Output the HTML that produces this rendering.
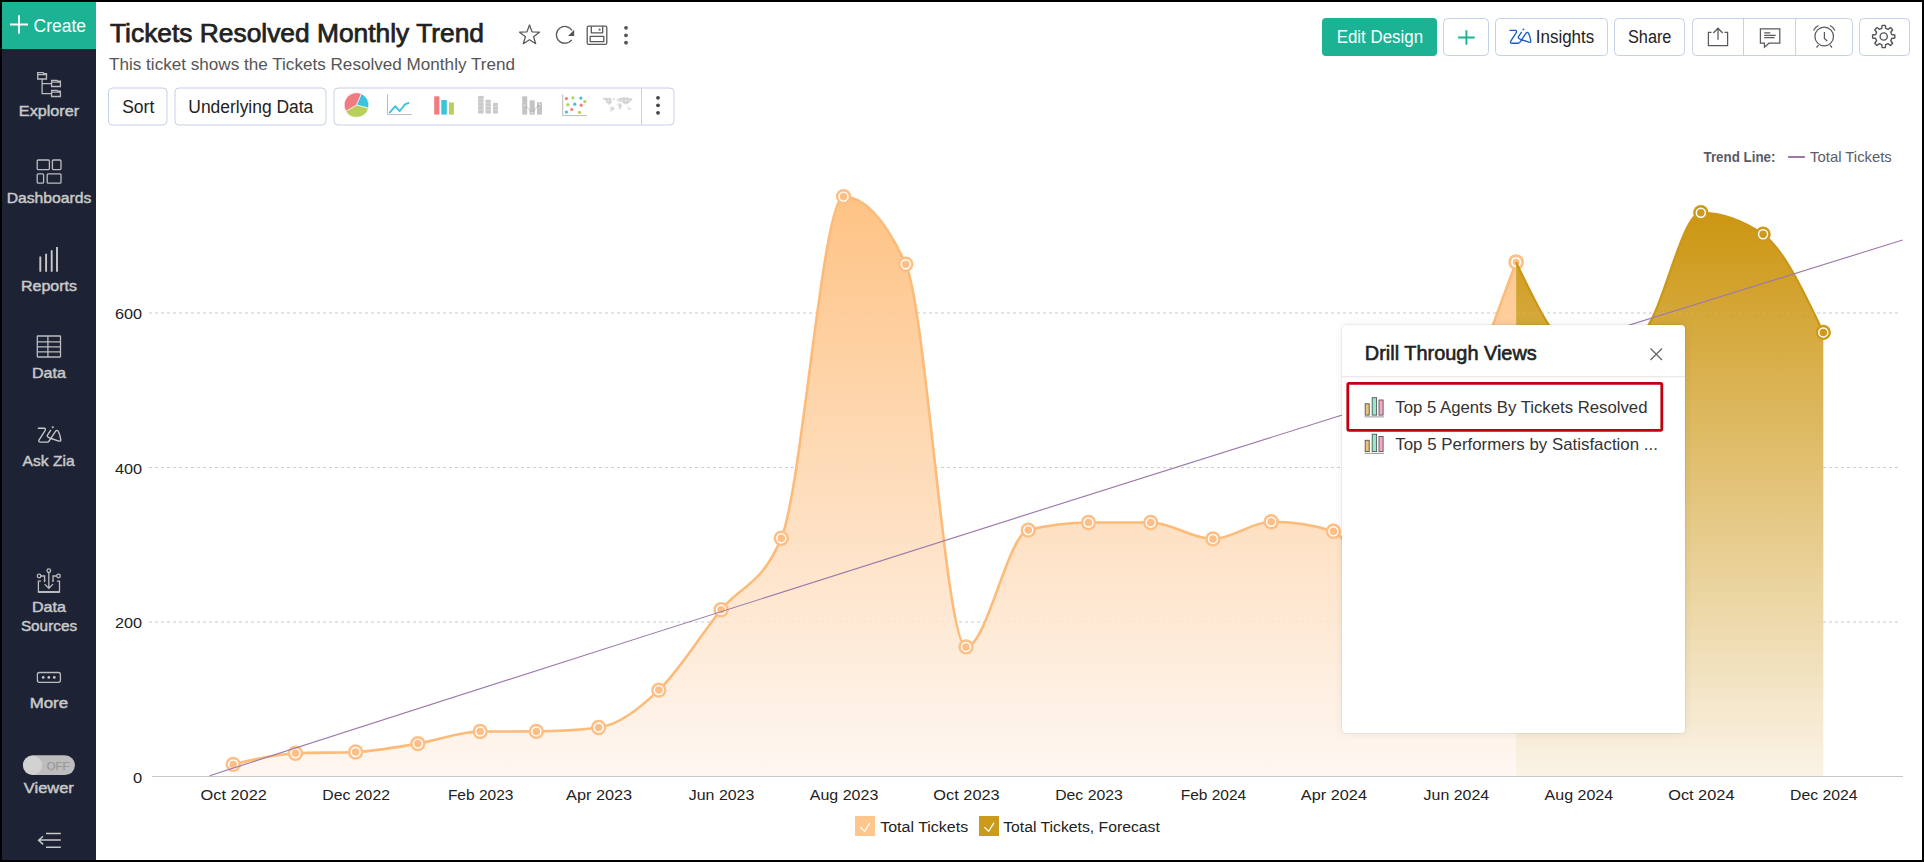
<!DOCTYPE html>
<html><head><meta charset="utf-8"><title>Tickets Resolved Monthly Trend</title>
<style>
html,body{margin:0;padding:0;width:1924px;height:862px;overflow:hidden;background:#000}
svg{position:absolute;left:0;top:0;display:block}
text{font-family:'Liberation Sans', sans-serif}
.pop{position:absolute;left:1342px;top:325px;width:343px;height:408px;background:#fff;border-radius:4px;box-shadow:0 0 0 1px rgba(0,0,0,0.045), 0 0 10px rgba(0,0,0,0.075)}
</style></head><body>

<svg width="1924" height="862" viewBox="0 0 1924 862">
<defs>
<linearGradient id="gOr" gradientUnits="userSpaceOnUse" x1="0" y1="196" x2="0" y2="776.5">
<stop offset="0" stop-color="#fec385"/><stop offset="1" stop-color="#fef7f2"/></linearGradient>
<linearGradient id="gGd" gradientUnits="userSpaceOnUse" x1="0" y1="212" x2="0" y2="776.5">
<stop offset="0" stop-color="#cc9611"/><stop offset="1" stop-color="#faf3e6"/></linearGradient>
</defs>
<rect x="0" y="0" width="1924" height="862" fill="#000"/>
<rect x="2" y="2" width="1920" height="858" fill="#fff"/>
<g id="sidebar">
<rect x="2" y="2" width="94" height="858" fill="#1d2235"/>
<rect x="2" y="2" width="94" height="47" fill="#1cb294"/>
<path d="M10,24.5 H28 M19,15.3 V33.8" stroke="#fff" stroke-width="1.8" fill="none"/>
<text x="33.5" y="31.7" font-size="18" fill="#fff" textLength="52.5" lengthAdjust="spacingAndGlyphs">Create</text>
<text x="18.85" y="115.5" font-size="14.5" fill="#c9c9c9" textLength="60.3" lengthAdjust="spacingAndGlyphs" stroke="#c9c9c9" stroke-width="0.45">Explorer</text>
<text x="6.649999999999999" y="202.5" font-size="14.5" fill="#c9c9c9" textLength="84.7" lengthAdjust="spacingAndGlyphs" stroke="#c9c9c9" stroke-width="0.45">Dashboards</text>
<text x="21.0" y="290.5" font-size="14.5" fill="#c9c9c9" textLength="56" lengthAdjust="spacingAndGlyphs" stroke="#c9c9c9" stroke-width="0.45">Reports</text>
<text x="32.0" y="377.9" font-size="14.5" fill="#c9c9c9" textLength="34" lengthAdjust="spacingAndGlyphs" stroke="#c9c9c9" stroke-width="0.45">Data</text>
<text x="22.6" y="465.6" font-size="14.5" fill="#c9c9c9" textLength="52" lengthAdjust="spacingAndGlyphs" stroke="#c9c9c9" stroke-width="0.45">Ask Zia</text>
<text x="32.0" y="611.6" font-size="14.5" fill="#c9c9c9" textLength="34" lengthAdjust="spacingAndGlyphs" stroke="#c9c9c9" stroke-width="0.45">Data</text>
<text x="20.9" y="630.5" font-size="14.5" fill="#c9c9c9" textLength="56.2" lengthAdjust="spacingAndGlyphs" stroke="#c9c9c9" stroke-width="0.45">Sources</text>
<text x="29.7" y="708.4" font-size="14.5" fill="#c9c9c9" textLength="38.4" lengthAdjust="spacingAndGlyphs" stroke="#c9c9c9" stroke-width="0.45">More</text>
<text x="23.799999999999997" y="792.6" font-size="14.5" fill="#c9c9c9" textLength="50" lengthAdjust="spacingAndGlyphs" stroke="#c9c9c9" stroke-width="0.45">Viewer</text>
<g stroke="#bdbdbd" fill="none" stroke-width="1.3"><path d="M37.7,79 V72.7 H43.2 L44,73.6 H46.5 V79 Z M37.7,74.7 H46.5"/><path d="M51.6,86.5 V80.3 H57 L57.8,81.1 H60.4 V86.5 Z M51.6,82.1 H60.4"/><path d="M51.6,96.5 V90.3 H57 L57.8,91.1 H60.4 V96.5 Z M51.6,92.1 H60.4"/><path d="M42.1,79 V93.6 H51.6 M42.1,83.7 H51.6"/></g>
<g stroke="#bdbdbd" fill="none" stroke-width="1.3" stroke-width="1.5"><rect x="37.2" y="160" width="12.2" height="9.6" rx="1"/><rect x="52.4" y="160" width="8.6" height="9.6" rx="1"/><rect x="37.2" y="173.8" width="6.4" height="9.4" rx="1"/><rect x="47.2" y="173.8" width="13.8" height="9.4" rx="1"/></g>
<g stroke="#c9c9c9" stroke-width="1.9"><path d="M40.3,271.7 V256.4 M46.1,271.7 V253.8 M51.7,271.7 V250.3 M57,271.7 V247"/></g>
<g stroke="#bdbdbd" fill="none" stroke-width="1.3"><rect x="37.3" y="336" width="23.2" height="21" rx="0.5"/><path d="M37.3,341.9 H60.5 M37.3,346.9 H60.5 M37.3,351.9 H60.5 M47.9,336 V357"/></g>
<g transform="translate(38.3,427.2) scale(1.08)"><path d="M0,1 H5.6 Q7,1.1 6.4,2.9 L0.6,11.9 Q0,13.8 2,13.8 H8.4 Q9.5,13.8 10.2,12.4 L16.2,3.5 Q17.5,2.2 18.6,4 Q20,6.6 20.8,11.6 Q21,13.3 19,12.8 L10.6,10 Q7.6,8.9 8.5,7.3 L11.4,2.9" stroke="#c9c9c9" stroke-width="1.25" fill="none" stroke-linejoin="round" stroke-linecap="round"/><circle cx="13.4" cy="0" r="0.95" fill="#c9c9c9"/></g>
<g stroke="#bdbdbd" fill="none" stroke-width="1.3"><path d="M40.9,581.2 H38.4 V592 H59.5 V581.2 H56.9 M48.8,572.7 V588.2 M44.6,584.1 L48.8,588.3 L53,584.1 M40.9,576 H44.6 V580.4 M56.7,576 H53 V580.4"/><circle cx="48.8" cy="570.7" r="1.8"/><circle cx="39.1" cy="576" r="1.8"/><circle cx="58.5" cy="576" r="1.8"/></g><path d="M38.4,592 H59.5" stroke="#bdbdbd" stroke-width="1.9"/><path d="M43.3,580.3 H45.9 L44.6,582.4 Z M51.7,580.3 H54.3 L53,582.4 Z" fill="#c4c4c4"/>
<g stroke="#bdbdbd" fill="none" stroke-width="1.3"><rect x="37.4" y="672.5" width="23" height="9.8" rx="2"/></g><g fill="#c9c9c9"><circle cx="43.2" cy="677.4" r="1.35"/><circle cx="48.8" cy="677.4" r="1.35"/><circle cx="54.3" cy="677.4" r="1.35"/></g>
<rect x="22.9" y="755.3" width="52" height="19.8" rx="9.9" fill="#bdbdbd"/>
<circle cx="32.6" cy="765.2" r="9.5" fill="#d2d2d2"/>
<text x="46.7" y="769.7" font-size="10.5" fill="#999" textLength="22.6" lengthAdjust="spacingAndGlyphs" stroke="#999" stroke-width="0.25">OFF</text>
<g stroke="#c9c9c9" stroke-width="1.5" fill="none"><path d="M46,833.6 H60.8 M38.9,840.1 H60.8 M46,847.2 H60.8 M43.1,836.2 L38.6,840.2 L43.1,844.4"/></g>
</g>
<text x="110" y="41.7" font-size="26" fill="#222" textLength="374" lengthAdjust="spacingAndGlyphs" stroke="#222" stroke-width="0.75">Tickets Resolved Monthly Trend</text>
<text x="109" y="69.8" font-size="17" fill="#555" textLength="406" lengthAdjust="spacingAndGlyphs">This ticket shows the Tickets Resolved Monthly Trend</text>
<g stroke="#5a5a5a" stroke-width="1.3" fill="none" stroke-linejoin="round">
<path d="M529.5,25 L532,31.8 L539.4,32.2 L533.6,36.7 L535.7,43.7 L529.5,39.7 L523.3,43.7 L525.4,36.7 L519.6,32.2 L527,31.8 Z"/>
<path d="M571.6,39.8 A8.4,8.4 0 1 1 572,30.5"/>
<rect x="587.2" y="26.2" width="19.6" height="18.2" rx="1.5"/><path d="M591.3,26.2 V32.8 H602.7 V26.2 M590.2,36.4 H603.8 V41.6 H590.2 Z"/>
</g>
<path d="M574.2,29.8 V36 H568 Z" fill="#555"/><rect x="598.7" y="28.7" width="1.8" height="1.8" fill="#555"/>
<g fill="#555"><circle cx="626" cy="27.8" r="1.9"/><circle cx="626" cy="35.3" r="1.9"/><circle cx="626" cy="42.7" r="1.9"/></g>
<rect x="108.5" y="88.0" width="58.5" height="37.0" rx="4" fill="#fff" stroke="#c5cfe6" stroke-width="1"/>
<text x="122.2" y="113.1" font-size="18" fill="#222" textLength="32.1" lengthAdjust="spacingAndGlyphs">Sort</text>
<rect x="175.0" y="88.0" width="151.0" height="37.0" rx="4" fill="#fff" stroke="#c5cfe6" stroke-width="1"/>
<text x="188.3" y="113.1" font-size="18" fill="#222" textLength="125" lengthAdjust="spacingAndGlyphs">Underlying Data</text>
<rect x="334.0" y="88.0" width="340.0" height="37.0" rx="4" fill="#fff" stroke="#c5cfe6" stroke-width="1"/>
<path d="M641.5,88 V125" stroke="#c5cfe6" stroke-width="1"/>
<path d="M356.5,105 L361.31,93.68 A12.3,12.3 0 0 1 368.38,108.18 Z" fill="#3bc3db" stroke="#fff" stroke-width="0.6"/>
<path d="M356.5,105 L368.38,108.18 A12.3,12.3 0 0 1 345.85,111.15 Z" fill="#b8cf5a" stroke="#fff" stroke-width="0.6"/>
<path d="M356.5,105 L345.85,111.15 A12.3,12.3 0 0 1 361.31,93.68 Z" fill="#ee7c80" stroke="#fff" stroke-width="0.6"/>
<path d="M387.5,94.4 V114.6 H411.8" stroke="#bbb" stroke-width="1" fill="none"/>
<path d="M389.3,113.1 L395.2,106.2 L399.6,111.2 L405,104.4 L409.2,102.6" stroke="#3bc3db" stroke-width="1.8" fill="none" stroke-linejoin="round"/>
<rect x="434.2" y="96.3" width="5.2" height="18.3" fill="#ee7c80"/><rect x="441.3" y="100" width="5.5" height="14.6" fill="#3bc3db"/><rect x="449" y="102.5" width="4.9" height="12.1" fill="#b8cf5a"/>
<g fill="#c9c9c9"><rect x="478.1" y="95.9" width="5.5" height="17.7"/><rect x="485.5" y="99.8" width="5.3" height="13.8"/><rect x="493" y="103" width="4.9" height="10.6"/></g>
<g stroke="#e4e4e4" stroke-width="0.6"><path d="M478,99 H483.6 M478,102.5 H483.6 M478,106 H483.6 M478,109.5 H483.6 M485.5,103 H490.8 M485.5,106.5 H490.8 M485.5,110 H490.8 M493,106.5 H497.9 M493,110 H497.9"/></g>
<g fill="#c4c4c4"><rect x="522.2" y="96.3" width="5" height="18.3"/><rect x="529.6" y="100.3" width="5.2" height="14.3"/><rect x="537" y="102.3" width="5" height="12.3"/></g>
<path d="M524.7,105.2 L532.1,112.6 L539.5,104.2" stroke="#8f8f8f" stroke-width="0.8" fill="none" opacity="0.6"/><g fill="#f4f4f4"><circle cx="524.7" cy="105.2" r="0.8"/><circle cx="532.1" cy="112.6" r="0.8"/><circle cx="539.5" cy="104.2" r="0.8"/></g>
<path d="M562.7,94.4 V115.6 H586.9" stroke="#bbb" stroke-width="1" fill="none"/>
<circle cx="566.4" cy="98.6" r="1.6" fill="#ee7c80"/>
<circle cx="572.9" cy="97.8" r="1.6" fill="#b8cf5a"/>
<circle cx="580.8" cy="98.1" r="1.6" fill="#3bc3db"/>
<circle cx="584.9" cy="101.6" r="1.6" fill="#b8cf5a"/>
<circle cx="567.9" cy="104.7" r="1.6" fill="#b8cf5a"/>
<circle cx="574.8" cy="104.2" r="1.6" fill="#3bc3db"/>
<circle cx="581.2" cy="105.2" r="1.6" fill="#ee7c80"/>
<circle cx="571.8" cy="109.5" r="1.6" fill="#ee7c80"/>
<circle cx="566.4" cy="112.1" r="1.6" fill="#3bc3db"/>
<circle cx="579.5" cy="112.4" r="1.6" fill="#b8cf5a"/>
<defs><pattern id="dotp" width="1.4" height="1.4" patternUnits="userSpaceOnUse"><rect width="1.15" height="1.15" fill="#c6c6c6"/></pattern></defs><g fill="url(#dotp)"><path d="M603,97.7 L610.3,97.7 L612.4,100.4 L611.3,103.2 L608.9,105.3 L607.1,103.2 L605,100.1 L603.1,99.7 Z M613,98 L614.8,98.5 L614.5,99.8 L613.2,99.7 Z M610.3,106.4 L613.8,106.7 L614.8,108.4 L612.4,110.5 L610.6,112.6 L610.4,109.5 Z M616.9,99.4 L619.3,98.2 L624.5,97 L632.9,98.7 L630.8,101.5 L629.4,102.5 L626.6,104.6 L624.5,104.3 L622.5,102.5 L620.4,101.5 L617.6,101.5 Z M616.2,103.9 L621.1,103.2 L621.8,106 L620.4,109.5 L619,109.5 L618.3,105.3 Z M627.3,108.1 L630.5,107.8 L630.8,109.5 L628,109.5 Z M626.8,105.8 L629.2,106 L628.5,106.9 Z"/></g>
<g fill="#444"><circle cx="658" cy="97.8" r="1.9"/><circle cx="658" cy="105.3" r="1.9"/><circle cx="658" cy="112.8" r="1.9"/></g>
<rect x="1322" y="18" width="115" height="38" rx="4" fill="#1cb294"/>
<text x="1336.7" y="42.6" font-size="17.5" fill="#fff" textLength="86.4" lengthAdjust="spacingAndGlyphs">Edit Design</text>
<rect x="1443.5" y="18.5" width="45" height="37" rx="4" fill="#fff" stroke="#c5cfe6" stroke-width="1"/>
<path d="M1458.1,37.5 H1474.7 M1466.4,30.2 V44.8" stroke="#1cb294" stroke-width="1.9"/>
<rect x="1495.5" y="18.5" width="112" height="37" rx="4" fill="#fff" stroke="#c5cfe6" stroke-width="1"/>
<g transform="translate(1510,29.4)"><path d="M0,1 H5.6 Q7,1.1 6.4,2.9 L0.6,11.9 Q0,13.8 2,13.8 H8.4 Q9.5,13.8 10.2,12.4 L16.2,3.5 Q17.5,2.2 18.6,4 Q20,6.6 20.8,11.6 Q21,13.3 19,12.8 L10.6,10 Q7.6,8.9 8.5,7.3 L11.4,2.9" stroke="#1b5fbf" stroke-width="1.35" fill="none" stroke-linejoin="round" stroke-linecap="round"/><circle cx="13.4" cy="0" r="0.95" fill="#1b5fbf"/></g>
<text x="1535.8" y="42.9" font-size="17.5" fill="#222" textLength="58.4" lengthAdjust="spacingAndGlyphs">Insights</text>
<rect x="1614.5" y="18.5" width="70" height="37" rx="4" fill="#fff" stroke="#c5cfe6" stroke-width="1"/>
<text x="1628" y="42.9" font-size="17.5" fill="#222" textLength="43.4" lengthAdjust="spacingAndGlyphs">Share</text>
<rect x="1692.5" y="18.5" width="160" height="37" rx="4" fill="#fff" stroke="#c5cfe6" stroke-width="1"/>
<path d="M1743.5,18.5 V55.5 M1795.6,18.5 V55.5" stroke="#c5cfe6" stroke-width="1"/>
<g stroke="#5a5a5a" stroke-width="1.25" fill="none">
<path d="M1711.5,32.4 H1708.4 V45.6 H1727.6 V32.4 H1724.5 M1718,39.8 V28.4 M1713.3,33 L1718,28.2 L1722.7,33"/>
<path d="M1760.4,28.9 H1779.8 V43.2 H1769 L1764.4,47.2 V43.2 H1760.4 Z"/>
<path d="M1764.2,32.9 H1770.3 M1764.2,35.3 H1775.7 M1764.2,37.6 H1774.5" stroke-width="1.3"/>
<circle cx="1824.2" cy="36.5" r="9.3"/><path d="M1824.4,32 V38.5 L1827.2,41"/><path d="M1813.5,30.5 A10,10 0 0 1 1818.5,25.5 M1830,25.5 A10,10 0 0 1 1835,30.5 M1818.5,45.2 L1816.5,47.5 M1830,45.2 L1832,47.5"/>
</g>
<rect x="1859.5" y="18.5" width="50" height="37" rx="4" fill="#fff" stroke="#c5cfe6" stroke-width="1"/>
<path d="M1881.69,28.45 L1882.14,25.41 L1885.26,25.41 L1885.71,28.45 L1887.97,29.39 L1890.44,27.56 L1892.64,29.76 L1890.81,32.23 L1891.75,34.49 L1894.79,34.94 L1894.79,38.06 L1891.75,38.51 L1890.81,40.77 L1892.64,43.24 L1890.44,45.44 L1887.97,43.61 L1885.71,44.55 L1885.26,47.59 L1882.14,47.59 L1881.69,44.55 L1879.43,43.61 L1876.96,45.44 L1874.76,43.24 L1876.59,40.77 L1875.65,38.51 L1872.61,38.06 L1872.61,34.94 L1875.65,34.49 L1876.59,32.23 L1874.76,29.76 L1876.96,27.56 L1879.43,29.39 Z" stroke="#555" stroke-width="1.4" fill="none" stroke-linejoin="round"/>
<circle cx="1883.7" cy="36.5" r="3.6" stroke="#555" stroke-width="1.4" fill="none"/>
<g id="chart">
<path d="M149,313 H1901" stroke="#cfcfcf" stroke-width="1" stroke-dasharray="3,3"/>
<path d="M149,467.5 H1901" stroke="#cfcfcf" stroke-width="1" stroke-dasharray="3,3"/>
<path d="M149,622 H1901" stroke="#cfcfcf" stroke-width="1" stroke-dasharray="3,3"/>
<path d="M233.20,764.40 C253.95,759.30 274.69,754.20 295.44,753.30 C315.52,752.43 335.59,752.87 355.67,752.00 C376.42,751.10 397.16,747.02 417.91,743.60 C438.65,740.18 459.40,731.57 480.15,731.50 C498.89,731.43 517.62,731.47 536.36,731.40 C557.11,731.33 577.86,730.10 598.60,727.50 C618.68,724.98 638.76,709.17 658.83,690.10 C679.58,670.39 700.32,635.48 721.07,609.80 C741.15,584.95 761.23,585.97 781.30,538.30 C802.05,489.04 822.79,196.60 843.54,196.60 C864.29,196.60 885.03,219.13 905.78,264.20 C925.86,307.81 945.93,646.90 966.01,646.90 C986.76,646.90 1007.50,535.34 1028.25,530.10 C1048.33,525.03 1068.40,522.50 1088.48,522.50 C1109.23,522.50 1129.97,522.50 1150.72,522.50 C1171.47,522.50 1192.21,538.90 1212.96,538.90 C1232.37,538.90 1251.77,521.80 1271.18,521.80 C1291.93,521.80 1312.67,524.93 1333.42,531.20 C1353.50,537.26 1373.57,630.00 1393.65,630.00 C1414.40,630.00 1435.14,492.18 1455.89,430.00 C1475.97,369.83 1496.04,315.96 1516.12,262.10 L1516.12,776.5 L233.20,776.5 Z" fill="url(#gOr)"/>
<path d="M233.20,764.40 C253.95,759.30 274.69,754.20 295.44,753.30 C315.52,752.43 335.59,752.87 355.67,752.00 C376.42,751.10 397.16,747.02 417.91,743.60 C438.65,740.18 459.40,731.57 480.15,731.50 C498.89,731.43 517.62,731.47 536.36,731.40 C557.11,731.33 577.86,730.10 598.60,727.50 C618.68,724.98 638.76,709.17 658.83,690.10 C679.58,670.39 700.32,635.48 721.07,609.80 C741.15,584.95 761.23,585.97 781.30,538.30 C802.05,489.04 822.79,196.60 843.54,196.60 C864.29,196.60 885.03,219.13 905.78,264.20 C925.86,307.81 945.93,646.90 966.01,646.90 C986.76,646.90 1007.50,535.34 1028.25,530.10 C1048.33,525.03 1068.40,522.50 1088.48,522.50 C1109.23,522.50 1129.97,522.50 1150.72,522.50 C1171.47,522.50 1192.21,538.90 1212.96,538.90 C1232.37,538.90 1251.77,521.80 1271.18,521.80 C1291.93,521.80 1312.67,524.93 1333.42,531.20 C1353.50,537.26 1373.57,630.00 1393.65,630.00 C1414.40,630.00 1435.14,492.18 1455.89,430.00 C1475.97,369.83 1496.04,315.96 1516.12,262.10" fill="none" stroke="#fdbb7a" stroke-width="2.6"/>
<circle cx="233.20" cy="764.40" r="7.7" fill="#fdbf85"/><circle cx="233.20" cy="764.40" r="4.5" fill="#fdbf85" stroke="#fff" stroke-width="1.45"/>
<circle cx="295.44" cy="753.30" r="7.7" fill="#fdbf85"/><circle cx="295.44" cy="753.30" r="4.5" fill="#fdbf85" stroke="#fff" stroke-width="1.45"/>
<circle cx="355.67" cy="752.00" r="7.7" fill="#fdbf85"/><circle cx="355.67" cy="752.00" r="4.5" fill="#fdbf85" stroke="#fff" stroke-width="1.45"/>
<circle cx="417.91" cy="743.60" r="7.7" fill="#fdbf85"/><circle cx="417.91" cy="743.60" r="4.5" fill="#fdbf85" stroke="#fff" stroke-width="1.45"/>
<circle cx="480.15" cy="731.50" r="7.7" fill="#fdbf85"/><circle cx="480.15" cy="731.50" r="4.5" fill="#fdbf85" stroke="#fff" stroke-width="1.45"/>
<circle cx="536.36" cy="731.40" r="7.7" fill="#fdbf85"/><circle cx="536.36" cy="731.40" r="4.5" fill="#fdbf85" stroke="#fff" stroke-width="1.45"/>
<circle cx="598.60" cy="727.50" r="7.7" fill="#fdbf85"/><circle cx="598.60" cy="727.50" r="4.5" fill="#fdbf85" stroke="#fff" stroke-width="1.45"/>
<circle cx="658.83" cy="690.10" r="7.7" fill="#fdbf85"/><circle cx="658.83" cy="690.10" r="4.5" fill="#fdbf85" stroke="#fff" stroke-width="1.45"/>
<circle cx="721.07" cy="609.80" r="7.7" fill="#fdbf85"/><circle cx="721.07" cy="609.80" r="4.5" fill="#fdbf85" stroke="#fff" stroke-width="1.45"/>
<circle cx="781.30" cy="538.30" r="7.7" fill="#fdbf85"/><circle cx="781.30" cy="538.30" r="4.5" fill="#fdbf85" stroke="#fff" stroke-width="1.45"/>
<circle cx="843.54" cy="196.60" r="7.7" fill="#fdbf85"/><circle cx="843.54" cy="196.60" r="4.5" fill="#fdbf85" stroke="#fff" stroke-width="1.45"/>
<circle cx="905.78" cy="264.20" r="7.7" fill="#fdbf85"/><circle cx="905.78" cy="264.20" r="4.5" fill="#fdbf85" stroke="#fff" stroke-width="1.45"/>
<circle cx="966.01" cy="646.90" r="7.7" fill="#fdbf85"/><circle cx="966.01" cy="646.90" r="4.5" fill="#fdbf85" stroke="#fff" stroke-width="1.45"/>
<circle cx="1028.25" cy="530.10" r="7.7" fill="#fdbf85"/><circle cx="1028.25" cy="530.10" r="4.5" fill="#fdbf85" stroke="#fff" stroke-width="1.45"/>
<circle cx="1088.48" cy="522.50" r="7.7" fill="#fdbf85"/><circle cx="1088.48" cy="522.50" r="4.5" fill="#fdbf85" stroke="#fff" stroke-width="1.45"/>
<circle cx="1150.72" cy="522.50" r="7.7" fill="#fdbf85"/><circle cx="1150.72" cy="522.50" r="4.5" fill="#fdbf85" stroke="#fff" stroke-width="1.45"/>
<circle cx="1212.96" cy="538.90" r="7.7" fill="#fdbf85"/><circle cx="1212.96" cy="538.90" r="4.5" fill="#fdbf85" stroke="#fff" stroke-width="1.45"/>
<circle cx="1271.18" cy="521.80" r="7.7" fill="#fdbf85"/><circle cx="1271.18" cy="521.80" r="4.5" fill="#fdbf85" stroke="#fff" stroke-width="1.45"/>
<circle cx="1333.42" cy="531.20" r="7.7" fill="#fdbf85"/><circle cx="1333.42" cy="531.20" r="4.5" fill="#fdbf85" stroke="#fff" stroke-width="1.45"/>
<circle cx="1393.65" cy="630.00" r="7.7" fill="#fdbf85"/><circle cx="1393.65" cy="630.00" r="4.5" fill="#fdbf85" stroke="#fff" stroke-width="1.45"/>
<circle cx="1455.89" cy="430.00" r="7.7" fill="#fdbf85"/><circle cx="1455.89" cy="430.00" r="4.5" fill="#fdbf85" stroke="#fff" stroke-width="1.45"/>
<circle cx="1516.12" cy="262.10" r="7.9" fill="#fdbf85"/><circle cx="1516.12" cy="262.10" r="4.3" fill="#fdbf85" stroke="#fff" stroke-width="1.8"/>
<path d="M1516.12,262.10 C1536.87,306.05 1557.61,350.00 1578.36,350.00 C1599.11,350.00 1619.85,344.67 1640.60,334.00 C1660.67,323.68 1680.75,212.80 1700.83,212.80 C1721.57,212.80 1742.32,219.97 1763.07,234.30 C1783.14,248.17 1803.22,290.29 1823.30,332.40 L1823.30,776.5 L1516.12,776.5 Z" fill="url(#gGd)"/>
<path d="M1516.12,262.10 C1536.87,306.05 1557.61,350.00 1578.36,350.00 C1599.11,350.00 1619.85,344.67 1640.60,334.00 C1660.67,323.68 1680.75,212.80 1700.83,212.80 C1721.57,212.80 1742.32,219.97 1763.07,234.30 C1783.14,248.17 1803.22,290.29 1823.30,332.40" fill="none" stroke="#cc9618" stroke-width="2.2"/>
<circle cx="1578.36" cy="350.00" r="7.7" fill="#cd9a1e"/><circle cx="1578.36" cy="350.00" r="4.5" fill="#cd9a1e" stroke="#fff" stroke-width="1.45"/>
<circle cx="1640.60" cy="334.00" r="7.7" fill="#cd9a1e"/><circle cx="1640.60" cy="334.00" r="4.5" fill="#cd9a1e" stroke="#fff" stroke-width="1.45"/>
<circle cx="1700.83" cy="212.80" r="7.7" fill="#cd9a1e"/><circle cx="1700.83" cy="212.80" r="4.5" fill="#cd9a1e" stroke="#fff" stroke-width="1.45"/>
<circle cx="1763.07" cy="234.30" r="7.7" fill="#cd9a1e"/><circle cx="1763.07" cy="234.30" r="4.5" fill="#cd9a1e" stroke="#fff" stroke-width="1.45"/>
<circle cx="1823.30" cy="332.40" r="7.7" fill="#cd9a1e"/><circle cx="1823.30" cy="332.40" r="4.5" fill="#cd9a1e" stroke="#fff" stroke-width="1.45"/>
<path d="M149,313 H1901" stroke="#cfcfcf" stroke-width="1" stroke-dasharray="3,3" opacity="0.22"/>
<path d="M149,467.5 H1901" stroke="#cfcfcf" stroke-width="1" stroke-dasharray="3,3" opacity="0.22"/>
<path d="M149,622 H1901" stroke="#cfcfcf" stroke-width="1" stroke-dasharray="3,3" opacity="0.22"/>
<path d="M152,776.5 H1903" stroke="#c6c6c6" stroke-width="1"/>
<path d="M209.6,775.75 Q1056.15,502.57 1902.7,240.06" stroke="#9d7aab" stroke-width="1.15" fill="none"/>
<text x="115.0" y="319.2" font-size="15" fill="#222" textLength="27.1" lengthAdjust="spacingAndGlyphs">600</text>
<text x="115.0" y="473.9" font-size="15" fill="#222" textLength="27.1" lengthAdjust="spacingAndGlyphs">400</text>
<text x="115.0" y="628.4" font-size="15" fill="#222" textLength="27.1" lengthAdjust="spacingAndGlyphs">200</text>
<text x="132.9" y="783.0" font-size="15" fill="#222" textLength="9.2" lengthAdjust="spacingAndGlyphs">0</text>
<text x="200.55" y="799.6" font-size="15" fill="#222" textLength="66.3" lengthAdjust="spacingAndGlyphs">Oct 2022</text>
<text x="322.37" y="799.6" font-size="15" fill="#222" textLength="67.6" lengthAdjust="spacingAndGlyphs">Dec 2022</text>
<text x="447.9" y="799.6" font-size="15" fill="#222" textLength="65.5" lengthAdjust="spacingAndGlyphs">Feb 2023</text>
<text x="566.0" y="799.6" font-size="15" fill="#222" textLength="66.2" lengthAdjust="spacingAndGlyphs">Apr 2023</text>
<text x="688.82" y="799.6" font-size="15" fill="#222" textLength="65.5" lengthAdjust="spacingAndGlyphs">Jun 2023</text>
<text x="809.79" y="799.6" font-size="15" fill="#222" textLength="68.5" lengthAdjust="spacingAndGlyphs">Aug 2023</text>
<text x="933.36" y="799.6" font-size="15" fill="#222" textLength="66.3" lengthAdjust="spacingAndGlyphs">Oct 2023</text>
<text x="1055.18" y="799.6" font-size="15" fill="#222" textLength="67.6" lengthAdjust="spacingAndGlyphs">Dec 2023</text>
<text x="1180.71" y="799.6" font-size="15" fill="#222" textLength="65.5" lengthAdjust="spacingAndGlyphs">Feb 2024</text>
<text x="1300.82" y="799.6" font-size="15" fill="#222" textLength="66.2" lengthAdjust="spacingAndGlyphs">Apr 2024</text>
<text x="1423.64" y="799.6" font-size="15" fill="#222" textLength="65.5" lengthAdjust="spacingAndGlyphs">Jun 2024</text>
<text x="1544.61" y="799.6" font-size="15" fill="#222" textLength="68.5" lengthAdjust="spacingAndGlyphs">Aug 2024</text>
<text x="1668.18" y="799.6" font-size="15" fill="#222" textLength="66.3" lengthAdjust="spacingAndGlyphs">Oct 2024</text>
<text x="1790.0" y="799.6" font-size="15" fill="#222" textLength="67.6" lengthAdjust="spacingAndGlyphs">Dec 2024</text>
<text x="1703.5" y="161.7" font-size="15" font-weight="bold" fill="#5a5a66" textLength="72" lengthAdjust="spacingAndGlyphs">Trend Line:</text>
<path d="M1788.1,157 H1804.9" stroke="#9b78a9" stroke-width="2"/>
<text x="1810.1" y="161.7" font-size="15" fill="#5c5c66" textLength="81.7" lengthAdjust="spacingAndGlyphs">Total Tickets</text>
<rect x="855" y="816" width="20" height="20" fill="#fec58c"/>
<path d="M860.4,827.2 L864.7,831.4 L869.9,822.9" stroke="#fff" stroke-width="1.2" fill="none"/>
<text x="880.2" y="831.8" font-size="15.5" fill="#222" textLength="88" lengthAdjust="spacingAndGlyphs">Total Tickets</text>
<rect x="979" y="816" width="20" height="20" fill="#cc9a1c"/>
<path d="M984.4,827.2 L988.7,831.4 L993.9,822.9" stroke="#fff" stroke-width="1.2" fill="none"/>
<text x="1003.2" y="831.8" font-size="15.5" fill="#222" textLength="156.6" lengthAdjust="spacingAndGlyphs">Total Tickets, Forecast</text>
</g>
</svg>
<div class="pop"><svg width="343" height="408" viewBox="1342 325 343 408">
<text x="1364.8" y="359.9" font-size="20" fill="#222" textLength="172" lengthAdjust="spacingAndGlyphs" stroke="#222" stroke-width="0.6">Drill Through Views</text>
<path d="M1650.5,348.5 L1662,360 M1662,348.5 L1650.5,360" stroke="#666" stroke-width="1.3"/>
<path d="M1342,376.8 H1685" stroke="#e3e3e3" stroke-width="1"/>
<rect x="1347.8" y="383.3" width="314" height="47" rx="1.2" fill="none" stroke="#c20012" stroke-width="2.8"/>
<g stroke="#555" stroke-width="0.9"><rect x="1365.2" y="403.8" width="4" height="11.3" fill="#e9c47f"/><rect x="1372.2" y="397.70000000000005" width="4.4" height="17.4" fill="#93e9c9"/><rect x="1379" y="400.0" width="4.1" height="15.1" fill="#f5a9ca"/></g><path d="M1364.5,416.90000000000003 H1384" stroke="#999" stroke-width="1"/>
<text x="1395.3" y="412.5" font-size="17" fill="#333" textLength="252.2" lengthAdjust="spacingAndGlyphs">Top 5 Agents By Tickets Resolved</text>
<g stroke="#555" stroke-width="0.9"><rect x="1365.2" y="440.3" width="4" height="11.3" fill="#e9c47f"/><rect x="1372.2" y="434.20000000000005" width="4.4" height="17.4" fill="#93e9c9"/><rect x="1379" y="436.5" width="4.1" height="15.1" fill="#f5a9ca"/></g><path d="M1364.5,453.40000000000003 H1384" stroke="#999" stroke-width="1"/>
<text x="1395.3" y="449.9" font-size="17" fill="#333" textLength="262.6" lengthAdjust="spacingAndGlyphs">Top 5 Performers by Satisfaction ...</text>
</svg></div>
</body></html>
